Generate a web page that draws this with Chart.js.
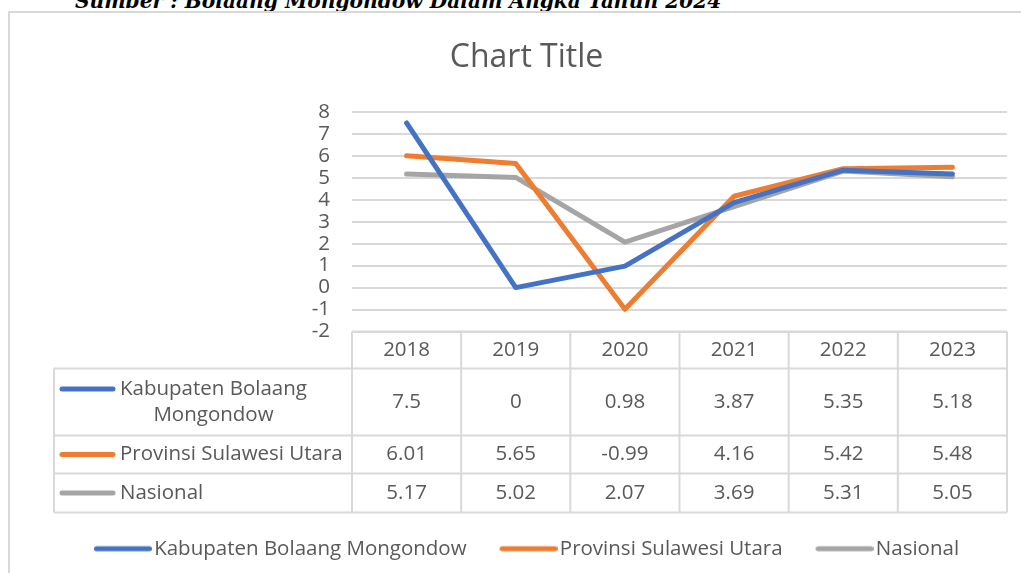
<!DOCTYPE html>
<html>
<head>
<meta charset="utf-8">
<script src="https://cdn.jsdelivr.net/npm/chart.js@4.4.1/dist/chart.umd.min.js"></script>
<style>
  html, body { margin: 0; padding: 0; background: #fff; overflow: hidden; }
  #wrap { position: relative; width: 1021px; height: 573px; overflow: hidden; }
  #frame { position: absolute; left: 8px; top: 11px; right: -10px; bottom: -10px;
           border-left: 2px solid #d9d9d9; border-top: 2px solid #d9d9d9; }
  #source { position: absolute; left: 75px; top: -9px; white-space: nowrap;
            font: italic bold 20.2px/20px "DejaVu Serif", serif; color: #000; }
  #box { position: absolute; left: 0; top: 0; width: 1021px; height: 573px; }
</style>
</head>
<body>
<div id="wrap">
  <div id="source">Sumber : Bolaang Mongondow Dalam Angka Tahun 2024</div>
  <div id="frame"></div>
  <div id="box"><canvas id="chart"></canvas></div>
</div>
<script>
const years = ["2018", "2019", "2020", "2021", "2022", "2023"];
const kabupaten = [7.5, 0, 0.98, 3.87, 5.35, 5.18];
const provinsi = [6.01, 5.65, -0.99, 4.16, 5.42, 5.48];
const nasional = [5.17, 5.02, 2.07, 3.69, 5.31, 5.05];
const seriesNames = ["Kabupaten Bolaang Mongondow", "Provinsi Sulawesi Utara", "Nasional"];
const yTicks = [-2, -1, 0, 1, 2, 3, 4, 5, 6, 7, 8];

const FONT = "'Open Sans', sans-serif";
const FSIZE = 20.5;
const TEXT = "#595959";
const GRID = "#d9d9d9";
const COLORS = ["#4472C4", "#ED7D31", "#A5A5A5"];

// row boundaries of the data table, measured down from the bottom of the plot
const rowEdges = [0, 37, 104, 142, 181];
const tableLeft = 54;

// legend key: a 58px line, drawn so the label sits right after it
const KEY_LEN = 58;
const KEY_BOX = 50;
function keyImage(color) {
  const c = document.createElement("canvas");
  c.width = 2 * KEY_LEN - KEY_BOX;
  c.height = 10;
  const g = c.getContext("2d");
  g.strokeStyle = color;
  g.lineWidth = 5;
  g.lineCap = "round";
  g.beginPath();
  g.moveTo(c.width - KEY_LEN + 2.5, 5);
  g.lineTo(c.width - 2.5, 5);
  g.stroke();
  return c;
}

function wrapText(ctx, text, maxW) {
  const words = text.split(" ");
  const lines = [];
  let line = "";
  words.forEach((w) => {
    const test = line ? line + " " + w : w;
    if (line && ctx.measureText(test).width > maxW) {
      lines.push(line);
      line = w;
    } else {
      line = test;
    }
  });
  lines.push(line);
  return lines;
}

const dataTable = {
  id: "dataTable",
  afterDraw: (chart) => {
    const {
      ctx,
      chartArea: { left, right, bottom },
      scales: { x },
    } = chart;
    const ys = rowEdges.map((r) => bottom + r);
    const colW = (right - left) / years.length;

    ctx.save();
    ctx.strokeStyle = GRID;
    ctx.lineWidth = 2;
    ctx.beginPath();
    ctx.moveTo(left, ys[0]);
    ctx.lineTo(right, ys[0]);
    for (let r = 1; r < ys.length; r++) {
      ctx.moveTo(tableLeft, ys[r]);
      ctx.lineTo(right, ys[r]);
    }
    ctx.moveTo(tableLeft, ys[1]);
    ctx.lineTo(tableLeft, ys[ys.length - 1]);
    for (let c = 0; c <= years.length; c++) {
      const cx = left + c * colW;
      ctx.moveTo(cx, ys[0]);
      ctx.lineTo(cx, ys[ys.length - 1]);
    }
    ctx.stroke();

    ctx.fillStyle = TEXT;
    ctx.font = FSIZE + "px " + FONT;
    ctx.textAlign = "center";
    ctx.textBaseline = "middle";
    years.forEach((yr, i) => {
      ctx.fillText(yr, x.getPixelForValue(i), (ys[0] + ys[1]) / 2);
    });

    chart.data.datasets.forEach((ds, r) => {
      const cy = (ys[r + 1] + ys[r + 2]) / 2;
      ds.data.forEach((v, i) => {
        ctx.fillText(String(v), x.getPixelForValue(i), cy);
      });

      // series key + wrapped label
      const textX = 120;
      const lines = wrapText(ctx, ds.label, left - textX - 4);
      const lh = 26;
      const firstY = cy - ((lines.length - 1) * lh) / 2;
      const blockW = Math.max(...lines.map((l) => ctx.measureText(l).width));
      lines.forEach((l, k) => {
        if (lines.length === 1) {
          ctx.textAlign = "left";
          ctx.fillText(l, textX, firstY);
        } else {
          ctx.textAlign = "center";
          ctx.fillText(l, textX + blockW / 2, firstY + k * lh);
        }
      });
      ctx.textAlign = "center";

      ctx.beginPath();
      ctx.strokeStyle = ds.borderColor;
      ctx.lineWidth = 5;
      ctx.lineCap = "round";
      ctx.moveTo(62, firstY);
      ctx.lineTo(113, firstY);
      ctx.stroke();
    });
    ctx.restore();
  },
};

const ctx = document.getElementById("chart").getContext("2d");

const lineStyle = {
  borderWidth: 5,
  pointRadius: 0,
  pointHoverRadius: 0,
  tension: 0,
  fill: false,
  borderCapStyle: "round",
  borderJoinStyle: "round",
};

const seriesData = [kabupaten, provinsi, nasional];

new Chart(ctx, {
  type: "line",
  data: {
    labels: years,
    datasets: seriesData.map((d, i) => ({
      label: seriesNames[i],
      data: d,
      borderColor: COLORS[i],
      backgroundColor: COLORS[i],
      pointStyle: keyImage(COLORS[i]),
      ...lineStyle,
    })),
  },
  options: {
    responsive: true,
    maintainAspectRatio: false,
    animation: false,
    devicePixelRatio: 1,
    layout: {
      padding: { left: 46, right: 14, top: 0, bottom: 4 },
    },
    scales: {
      x: {
        offset: true,
        grid: { display: false },
        border: { display: false },
        ticks: { display: false },
        afterFit: (scale) => {
          scale.height = 174;
        },
      },
      y: {
        min: yTicks[0],
        max: yTicks[yTicks.length - 1],
        afterBuildTicks: (scale) => {
          scale.ticks = yTicks.map((v) => ({ value: v }));
        },
        afterFit: (scale) => {
          scale.width = 306;
        },
        grid: {
          color: GRID,
          lineWidth: 2,
          drawTicks: false,
        },
        border: { display: false },
        ticks: {
          autoSkip: false,
          padding: 22,
          color: TEXT,
          font: { family: FONT, size: FSIZE },
        },
      },
    },
    plugins: {
      title: {
        display: true,
        text: "Chart Title",
        color: TEXT,
        font: { family: FONT, size: 32, weight: "normal" },
        padding: { top: 39, bottom: 34.6 },
      },
      legend: {
        position: "bottom",
        labels: {
          usePointStyle: true,
          pointStyleWidth: KEY_BOX,
          padding: 33,
          color: TEXT,
          font: { family: FONT, size: FSIZE },
        },
      },
      tooltip: { enabled: false },
    },
  },
  plugins: [dataTable],
});
</script>
</body>
</html>
